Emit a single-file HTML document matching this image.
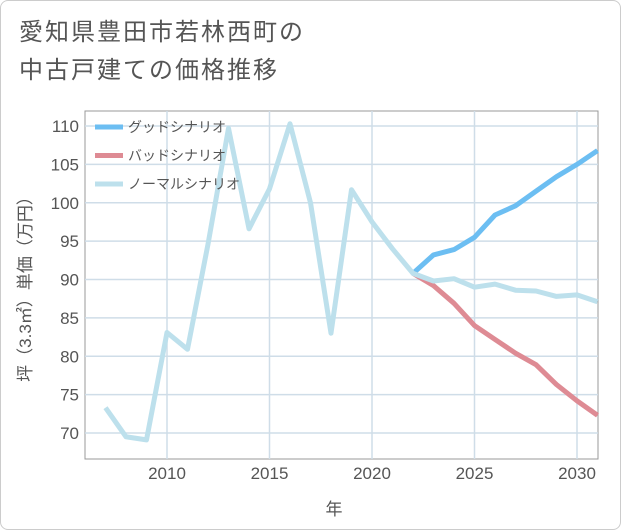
<!DOCTYPE html>
<html><head><meta charset="utf-8"><style>
body{margin:0;background:#fff;}
#card{position:absolute;left:0;top:0;width:619px;height:528px;border:1px solid #ccc;border-radius:8px;background:#fff;overflow:hidden;font-family:"Liberation Sans","Noto Sans CJK JP",sans-serif;}
#title{position:absolute;left:18px;top:13px;font-size:24px;letter-spacing:2px;line-height:38px;color:#555;}
</style></head><body>
<div id="card">
<div id="title">愛知県豊田市若林西町の<br>中古戸建ての価格推移</div>
<svg id="chart" width="621" height="530" style="position:absolute;left:0;top:0"></svg>
</div>
<script>
const years=[2007,2008,2009,2010,2011,2012,2013,2014,2015,2016,2017,2018,2019,2020,2021,2022,2023,2024,2025,2026,2027,2028,2029,2030,2031];
const normalValues=[73.3,69.5,69.1,83.1,80.9,94.6,109.7,96.6,101.8,110.3,100,83,101.7,97.5,94,90.8,89.8,90.1,89,89.4,88.6,88.5,87.8,88,87.1];
const futureYears=[2022,2023,2024,2025,2026,2027,2028,2029,2030,2031];
const goodValues=[90.8,93.2,93.9,95.5,98.4,99.6,101.5,103.4,105,106.8];
const badValues=[90.8,89.2,86.9,84,82.2,80.4,78.9,76.3,74.2,72.3];
const yTicks=[70,75,80,85,90,95,100,105,110];
const xTicks=[2010,2015,2020,2025,2030];
const legendLabels=["グッドシナリオ","バッドシナリオ","ノーマルシナリオ"];

const NS="http://www.w3.org/2000/svg";
const svg=document.getElementById('chart');
const L=84,R=597,T=110,B=458;
const xs=v=>166+(v-2010)*(576-166)/20;
const ys=v=>432-(v-70)*(432-125)/40;
function el(t,a,p){const e=document.createElementNS(NS,t);for(const k in a)e.setAttribute(k,a[k]);(p||svg).appendChild(e);return e;}
const frame=el('rect',{x:L,y:T,width:R-L,height:B-T,fill:'none',stroke:'#999','stroke-width':1});


yTicks.forEach(v=>{
 const g=el('line',{x1:L,x2:R,y1:ys(v),y2:ys(v),stroke:'#cfdde8','stroke-width':1.5});
 
 
 const t=el('text',{x:L-6,y:ys(v)+6,'text-anchor':'end','font-size':17,fill:'#555'});
 t.textContent=v;
 
 
});
xTicks.forEach(v=>{
 const g=el('line',{x1:xs(v),x2:xs(v),y1:T,y2:B,stroke:'#cfdde8','stroke-width':1.5});
 
 
 const t=el('text',{x:xs(v),y:B+20,'text-anchor':'middle','font-size':17,fill:'#555'});
 t.textContent=v;
 
 
});
const xt=el('text',{x:333,y:514,'text-anchor':'middle','font-size':17,fill:'#555'});
xt.textContent='年';


const yt=el('text',{x:0,y:0,'text-anchor':'middle','font-size':17,fill:'#555',transform:'translate(30,284) rotate(-90)'});
yt.textContent='坪（3.3㎡）単価（万円）';


function line(xv,yv,color,name){
 const d=xv.map((x,i)=>(i?'L':'M')+xs(x).toFixed(1)+','+ys(yv[i]).toFixed(1)).join('');
 const p=el('path',{d:d,fill:'none',stroke:color,'stroke-width':5,'stroke-linejoin':'round'});
 
 
}
line(futureYears,goodValues,'#6cbef2','good-scenario-line');
line(futureYears,badValues,'#de8b94','bad-scenario-line');
line(years,normalValues,'#bde0ec','normal-scenario-line');
const colors=['#6cbef2','#de8b94','#bde0ec'];
legendLabels.forEach((s,i)=>{
 const y=126+i*28.5;
 const l=el('line',{x1:94,x2:122,y1:y,y2:y,stroke:colors[i],'stroke-width':5});
 
 
 const t=el('text',{x:127,y:y+5,'font-size':14,fill:'#555'});
 t.textContent=s;
 
 
});
</script>
</body></html>
